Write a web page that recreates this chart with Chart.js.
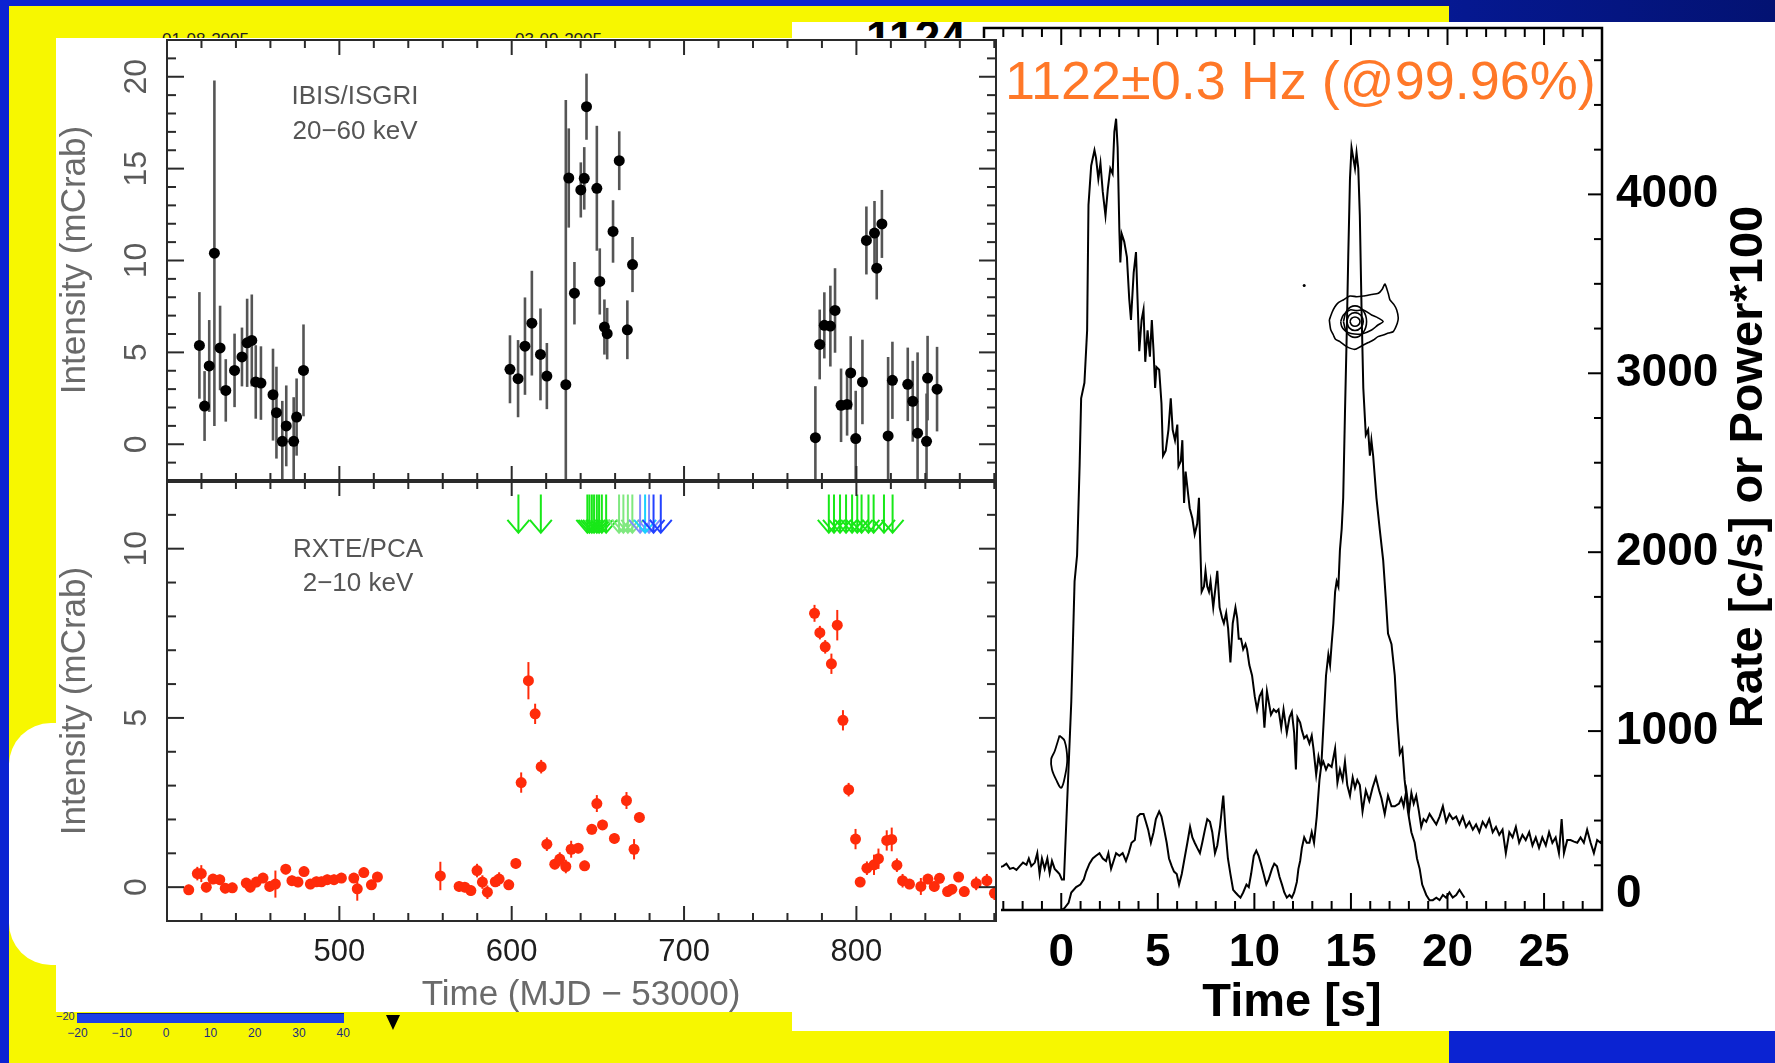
<!DOCTYPE html>
<html>
<head>
<meta charset="utf-8">
<script src="https://cdn.jsdelivr.net/npm/chart.js@4.4.1/dist/chart.umd.min.js"></script>
<style>
html, body { margin: 0; padding: 0; }
body { width: 1775px; height: 1063px; position: relative; overflow: hidden; background: #0b23d2; font-family: "Liberation Sans", Arial, sans-serif; }
.abs { position: absolute; }
canvas { position: absolute; left: 0; top: 0; }
</style>
</head>
<body>
<div class="abs" style="left:1000px;top:0;width:775px;height:23px;background:linear-gradient(to right,#0b23d2,#051890 60%,#031272)"></div>
<div class="abs" style="left:9px;top:6px;width:1440px;height:1057px;background:#f7f700"></div>
<div class="abs" style="left:9px;top:723px;width:80px;height:242px;background:#fff;border-radius:42px 0 0 42px"></div>
<div class="abs" style="left:162px;top:31px;font-size:17px;color:#222;line-height:17px">01-08-2005</div>
<div class="abs" style="left:515px;top:31px;font-size:17px;color:#222;line-height:17px">03-09-2005</div>

<!-- leftover colour scale of the slide, bottom left -->
<div class="abs" style="left:56px;top:1011px;font-size:11px;color:#1a2a80;line-height:11px">−20</div>
<div class="abs" style="left:77px;top:1013px;width:267px;height:9px;background:#1d3fe6;border-top:1px solid #0a1a90"></div>
<div class="abs" id="scaleLabels" style="left:0;top:1027px;font-size:12px;color:#1a2a80;line-height:12px"></div>
<div class="abs" style="left:386px;top:1015px;width:0;height:0;border-left:7px solid transparent;border-right:7px solid transparent;border-top:15px solid #000"></div>

<div class="abs" style="left:792px;top:22px;width:983px;height:1009px;background:#fff;overflow:hidden">
  <div class="abs" style="left:74px;top:-8px;font-weight:bold;font-size:46px;line-height:46px;color:#000">1124</div>
</div>

<canvas id="burstChart" width="1775" height="1063"></canvas>

<div class="abs" style="left:56px;top:38px;width:945px;height:974px;background:#fff"></div>

<canvas id="isgriChart" width="1775" height="1063"></canvas>
<canvas id="pcaChart" width="1775" height="1063"></canvas>

<div class="abs" style="left:1005px;top:53px;font-size:54px;line-height:54px;color:#ff7828;white-space:nowrap">1122±0.3 Hz (@99.96%)</div>

<script>
// ---- IBIS/ISGRI 20-60 keV (MJD - 53000, mCrab) ----
const isgriMjd = [418.8, 421.8, 424.5, 427.5, 430.8, 434.1, 439.2, 443.5, 446.5, 449.2, 451.5, 454.5, 461.5, 463.5, 466.9, 469.2, 473.5, 475.2, 479.2,
  599.0, 603.7, 607.7, 611.7, 616.7, 620.4, 631.4, 633.1, 636.4, 640.1, 642.1, 643.4, 649.4, 651.1, 653.8, 655.4, 658.8, 662.4, 667.1, 670.1,
  776.2, 778.7, 781.4, 784.9, 787.6, 791.1, 794.6, 796.7, 799.6, 803.5, 805.8, 810.5, 811.8, 814.8, 818.4, 820.9, 829.8, 832.7, 835.5, 840.7, 841.3, 846.8];
const isgriFlux = [5.38, 2.08, 4.26, 10.4, 5.24, 2.93, 4.02, 4.75, 5.52, 5.65, 3.39, 3.33, 2.7, 1.72, 0.16, 1.0, 0.16, 1.48, 4.02,
  4.08, 3.57, 5.34, 6.59, 4.89, 3.71, 3.24, 14.49, 8.22, 13.84, 14.47, 18.37, 13.93, 8.86, 6.38, 6.02, 11.58, 15.43, 6.23, 9.78,
  0.36, 5.43, 6.47, 6.43, 7.28, 2.12, 2.17, 3.88, 0.31, 3.39, 11.09, 11.49, 9.58, 11.99, 0.45, 3.48, 3.26, 2.34, 0.6, 0.16, 3.6, 3.0];
const isgriErr = [2.9, 1.9, 2.5, 9.4, 2.3, 1.7, 2.0, 1.6, 2.4, 2.5, 2.0, 2.0, 2.5, 2.5, 2.2, 2.2, 2.4, 2.1, 2.5,
  1.85, 2.1, 2.65, 2.85, 2.5, 1.8, 15.5, 2.7, 1.7, 1.5, 1.7, 1.8, 3.4, 1.8, 1.5, 1.4, 1.7, 1.6, 1.6, 1.5,
  2.8, 1.9, 1.8, 2.2, 2.3, 2.0, 1.7, 2.0, 2.6, 2.3, 1.85, 1.75, 1.7, 1.85, 4.3, 2.1, 2.0, 2.2, 4.4, 2.6, 2.3, 2.3];

// ---- RXTE/PCA 2-10 keV ----
const pcaMjd = [412.6, 417.6, 419.9, 422.8, 426.7, 430.6, 433.8, 437.9, 446.0, 448.3, 451.8, 455.7, 459.6, 462.9, 468.9, 472.5, 476.0, 479.5, 483.2, 486.7,
  489.6, 493.0, 496.9, 501.2, 508.4, 510.4, 514.2, 518.6, 522.1, 558.6, 569.5, 572.8, 576.3, 579.9, 583.0, 585.9, 590.5, 592.7, 598.3, 602.4,
  605.5, 609.7, 613.6, 617.1, 620.4, 625.0, 627.9, 631.4, 634.5, 638.6, 642.3, 646.5, 649.4, 652.7, 659.6, 666.6, 671.0, 674.1,
  775.7, 778.8, 781.9, 785.5, 788.9, 792.2, 795.5, 799.5, 802.2, 806.1, 810.2, 812.8, 817.6, 820.5, 823.5, 826.8, 830.8, 837.4, 841.5, 845.2,
  848.2, 852.9, 855.4, 859.3, 862.6, 869.5, 875.7, 880.1];
const pcaFlux = [-0.08, 0.40, 0.40, 0.00, 0.24, 0.22, -0.03, -0.02, 0.12, 0.00, 0.15, 0.27, 0.02, 0.09, 0.53, 0.19, 0.15, 0.46, 0.09, 0.16,
  0.16, 0.22, 0.22, 0.27, 0.27, -0.05, 0.43, 0.07, 0.30, 0.33, 0.02, 0.00, -0.10, 0.49, 0.15, -0.15, 0.16, 0.24, 0.07, 0.70,
  3.09, 6.10, 5.12, 3.56, 1.27, 0.68, 0.83, 0.61, 1.12, 1.15, 0.63, 1.71, 2.47, 1.84, 1.44, 2.56, 1.12, 2.06,
  8.09, 7.52, 7.10, 6.60, 7.74, 4.93, 2.88, 1.42, 0.15, 0.56, 0.66, 0.84, 1.38, 1.41, 0.65, 0.19, 0.09, 0.02, 0.24, 0.02,
  0.26, -0.13, -0.06, 0.30, -0.13, 0.11, 0.19, -0.18];
const pcaErr = [0.15, 0.2, 0.25, 0.15, 0.15, 0.15, 0.15, 0.15, 0.15, 0.15, 0.15, 0.15, 0.15, 0.4, 0.15, 0.15, 0.15, 0.15, 0.15, 0.15,
  0.15, 0.15, 0.15, 0.15, 0.15, 0.35, 0.15, 0.15, 0.15, 0.42, 0.15, 0.15, 0.15, 0.2, 0.2, 0.2, 0.15, 0.2, 0.15, 0.15,
  0.3, 0.55, 0.3, 0.2, 0.2, 0.15, 0.2, 0.2, 0.25, 0.15, 0.15, 0.15, 0.25, 0.15, 0.15, 0.25, 0.3, 0.15,
  0.25, 0.2, 0.2, 0.3, 0.45, 0.3, 0.2, 0.3, 0.15, 0.2, 0.3, 0.3, 0.3, 0.35, 0.2, 0.2, 0.15, 0.25, 0.15, 0.15,
  0.15, 0.15, 0.15, 0.15, 0.15, 0.2, 0.2, 0.2];

// burst arrows (MJD - 53000)
const arrowsGreen = [603.9, 616.9, 643.9, 645.1, 646.5, 647.8, 649.4, 650.7, 652.3, 654.8,
  784, 787, 790.5, 794, 797.5, 800.5, 803, 807, 810, 816, 821];
const arrowsPaleGreen = [662.3, 664.8, 667.4, 670.0];
const arrowsLightBlue = [674.5, 679.7];
const arrowsCyan = [677.4];
const arrowsBlue = [682.3, 686.5];
const arrowTop = 11.6;
const arrowTip = 10.47;

const mjdTicks = [500, 600, 700, 800];
const isgriTicks = [0, 5, 10, 15, 20];
const pcaTicks = [0, 5, 10];

// ---- burst light curves (s, c/s) ----
const burst1Time = [-4.0, -3.5, -3.01, -2.84, -2.66, -2.49, -2.32, -2.15, -1.98, -1.80, -1.68, -1.55, -1.37, -1.24, -1.12, -1.00, -0.86, -0.72, -0.60, -0.48, -0.34, -0.21, -0.09, 0.03,
  0.14, 0.52, 0.69, 0.82, 0.95, 1.03, 1.20, 1.34, 1.41, 1.55, 1.72, 1.80, 1.92, 2.03, 2.15, 2.29, 2.41, 2.54, 2.66, 2.75, 2.84, 2.92, 3.01, 3.06, 3.13, 3.26, 3.40, 3.52, 3.61, 3.75,
  3.87, 3.95, 4.04, 4.16, 4.26, 4.35, 4.47, 4.59, 4.69, 4.78, 4.86, 4.93, 5.07, 5.19, 5.27, 5.41, 5.55, 5.67, 5.77, 5.89, 6.01, 6.07, 6.19, 6.27, 6.36, 6.44, 6.53, 6.65, 6.79, 6.91,
  7.04, 7.13, 7.18, 7.27, 7.39, 7.47, 7.56, 7.65, 7.73, 7.87, 7.99, 8.08, 8.20, 8.33, 8.42, 8.54, 8.64, 8.76, 8.88, 9.02, 9.11, 9.19, 9.31, 9.42, 9.54, 9.62, 9.74, 9.88, 10.02, 10.14,
  10.27, 10.40, 10.52, 10.65, 10.74, 10.86, 11.00, 11.13, 11.25, 11.39, 11.51, 11.68, 11.82, 11.94, 12.06, 12.15, 12.23, 12.37,
  12.46, 12.58, 12.71, 12.85, 12.97, 13.06, 13.20, 13.32, 13.44, 13.57, 13.71, 13.83, 14.00, 14.18, 14.30, 14.43, 14.57, 14.69, 14.81, 14.95, 15.09, 15.21, 15.33, 15.46, 15.60, 15.77,
  15.95, 16.12, 16.29, 16.46, 16.58, 16.75, 16.92, 17.10, 17.27, 17.49, 17.61, 17.73, 17.87, 18.01, 18.13, 18.25, 18.38, 18.52, 18.64, 18.76, 18.90, 19.07, 19.24, 19.42, 19.59, 19.76,
  19.93, 20.10, 20.27, 20.45, 20.62, 20.79, 20.96, 21.13, 21.31, 21.48, 21.65, 21.82, 21.99, 22.16, 22.34, 22.51, 22.68, 22.85, 23.02, 23.20, 23.37, 23.54, 23.71, 23.88, 24.05, 24.23,
  24.40, 24.57, 24.74, 24.91, 25.09, 25.26, 25.43, 25.60, 25.77, 25.91, 26.03, 26.20, 26.37, 26.55, 26.72, 26.89, 27.06, 27.23, 27.41, 27.58, 27.75, 27.92, 28.0];
const burst1Rate = [250, 230, 245, 259, 230, 236, 224, 245, 265, 253, 288, 245, 265, 318, 201, 288, 230, 288, 207, 274, 230, 215, 201, 171,
  171, 1165, 1837, 1983, 2480, 2860, 2947, 3240, 3941, 4160, 4247, 4204, 4087, 4174, 4014, 3882, 4028, 4145, 4116, 4350, 4423, 4262, 3795, 3619, 3780, 3736, 3649, 3415, 3298, 3561,
  3678, 3415, 3123, 3298, 3356, 3064, 3240, 3093, 3298, 3123, 2918, 3035, 3020, 2831, 2539, 2568, 2684, 2860, 2684, 2626, 2713, 2480, 2509, 2626, 2275, 2451, 2363, 2246, 2188, 2100,
  2159, 2304, 2100, 1779, 1808, 1896, 1808, 1779, 1837, 1691, 1808, 1896, 1691, 1632, 1603, 1661, 1574, 1384, 1603, 1691, 1632, 1516, 1516, 1457, 1486, 1457, 1369, 1311, 1194, 1121,
  1194, 1223, 1019, 1223, 1165, 1092, 1121, 1107, 1121, 1019, 1121, 990, 1077, 1107, 990, 785, 1077, 1048,
  1004, 960, 975, 931, 975, 902, 756, 858, 800, 829, 785, 814, 800, 902, 712, 785, 727, 829, 698, 639, 741, 683, 727, 698, 551, 668,
  610, 683, 741, 668, 625, 537, 639, 580, 580, 595, 625, 580, 668, 551, 654, 595, 639, 551, 464, 508, 493, 537, 508, 478, 522, 580,
  493, 537, 508, 522, 478, 522, 464, 493, 449, 478, 435, 493, 464, 508, 435, 464, 420, 449, 318, 435, 406, 464, 376, 420, 391, 435,
  361, 406, 347, 406, 361, 435, 376, 406, 318, 508, 318, 391, 391, 382, 376, 406, 376, 449, 376, 318, 391, 376, 390];

const burst2Time = [0.0, 0.17, 0.38, 0.52, 0.77, 0.99, 1.17, 1.29, 1.46, 1.63, 1.80, 1.98, 2.15, 2.32, 2.44, 2.58, 2.71, 2.84, 3.01, 3.18, 3.35, 3.49, 3.64, 3.81, 3.95, 4.09, 4.26, 4.38,
  4.50, 4.64, 4.78, 4.90, 5.07, 5.19, 5.33, 5.46, 5.58, 5.72, 5.84, 5.98, 6.10, 6.24, 6.36, 6.53, 6.67, 6.79, 6.91, 7.04, 7.18, 7.30, 7.44, 7.56, 7.70, 7.82, 7.96, 8.08, 8.22, 8.33,
  8.39, 8.51, 8.63, 8.76, 8.90, 9.02, 9.14, 9.28, 9.42, 9.59, 9.71, 9.83, 9.97, 10.10, 10.22, 10.34, 10.48, 10.62, 10.74, 10.91, 11.03, 11.17, 11.30, 11.43, 11.55, 11.68, 11.82, 11.94,
  12.06, 12.20, 12.28, 12.37,
  12.46, 12.58, 12.71, 12.85, 12.97, 13.09, 13.23, 13.37, 13.47, 13.57, 13.71, 13.83, 13.92, 14.00, 14.09, 14.18, 14.26, 14.35, 14.43, 14.52, 14.60, 14.69, 14.78, 14.86, 14.95, 15.03,
  15.12, 15.21, 15.29, 15.38, 15.46, 15.55, 15.64, 15.77, 15.89, 15.98, 16.06, 16.15, 16.32, 16.49, 16.67, 16.80, 16.92, 17.10, 17.27, 17.39, 17.53, 17.66, 17.78, 17.87, 17.95, 18.13,
  18.30, 18.42, 18.56, 18.69, 18.90, 19.07, 19.24, 19.42, 19.59, 19.76, 19.93, 20.10, 20.27, 20.45, 20.62, 20.79, 20.88];
const burst2Rate = [0, 11, 40, 98, 128, 142, 171, 215, 259, 288, 303, 318, 288, 274, 318, 230, 274, 318, 303, 318, 274, 318, 376, 391, 522, 537, 537, 493,
  449, 376, 435, 508, 551, 522, 449, 376, 288, 245, 215, 201, 142, 201, 274, 376, 464, 406, 376, 347, 318, 376, 449, 508, 493, 435, 318, 361, 464, 580,
  639, 435, 288, 201, 113, 98, 84, 69, 98, 142, 128, 201, 303, 332, 303, 259, 201, 142, 171, 230, 259, 245, 186, 142, 98, 69, 84, 69,
  98, 157, 230, 274,
  347, 406, 376, 376, 435, 376, 522, 727, 814, 1019, 1311, 1428, 1369, 1486, 1603, 1779, 1837, 1808, 2012, 2129, 2304, 2772, 3210, 3649, 4087, 4262,
  4204, 4145, 4233, 4145, 3882, 3356, 2918, 2655, 2684, 2539, 2626, 2539, 2304, 2129, 1954, 1749, 1545, 1486, 1311, 1077, 873, 902, 727, 639, 551, 435,
  376, 288, 230, 142, 84, 55, 55, 69, 55, 84, 69, 98, 69, 84, 113, 84, 69];

// power contours (s, power*100)
const blobTime = [-0.09, 0.17, 0.31, 0.21, 0.0, -0.26, -0.48, -0.52, -0.34, -0.17, -0.09];
const blobPower = [975, 946, 844, 756, 683, 727, 785, 844, 887, 946, 975];
const outerTime = [13.88, 14.02, 14.17, 14.35, 14.60, 14.95, 15.30, 15.64, 16.05, 16.42, 16.62, 16.76, 16.93, 17.02, 17.22, 17.37, 17.45, 17.40, 17.19, 16.95, 16.67, 16.40, 16.16, 15.90, 15.64, 15.21, 14.78, 14.43, 14.20, 14.09, 13.95, 13.88];
const outerPower = [3298, 3340, 3372, 3395, 3410, 3432, 3428, 3432, 3440, 3447, 3470, 3499, 3447, 3410, 3385, 3354, 3310, 3280, 3233, 3225, 3214, 3205, 3186, 3172, 3158, 3134, 3149, 3177, 3190, 3214, 3245, 3298];
const midTime = [14.47, 14.60, 14.95, 15.30, 15.64, 16.07, 16.40, 16.67, 16.40, 16.07, 15.56, 15.00, 14.69, 14.52, 14.47];
const midPower = [3289, 3325, 3354, 3350, 3354, 3326, 3310, 3289, 3270, 3242, 3220, 3222, 3238, 3262, 3289];
const ring1Time = [14.61, 14.79, 15.21, 15.63, 15.81, 15.63, 15.21, 14.79, 14.61];
const ring1Power = [3289, 3351, 3377, 3351, 3289, 3227, 3201, 3227, 3289];
const ring2Time = [14.78, 14.91, 15.21, 15.51, 15.64, 15.51, 15.21, 14.91, 14.78];
const ring2Power = [3289, 3324, 3339, 3324, 3289, 3254, 3239, 3254, 3289];
const ring3Time = [14.95, 15.03, 15.21, 15.39, 15.47, 15.39, 15.21, 15.03, 14.95];
const ring3Power = [3289, 3307, 3315, 3307, 3289, 3271, 3263, 3271, 3289];
const strayTime = [12.58];
const strayPower = [3490];

const timeTicks = [0, 5, 10, 15, 20, 25];
const rateTicks = [0, 1000, 2000, 3000, 4000];
const scaleTicks = ['−20', '−10', '0', '10', '20', '30', '40'];

const pts = (xs, ys) => xs.map((v, i) => ({ x: v, y: ys[i] }));

// slide leftover scale labels
const scaleBox = document.getElementById('scaleLabels');
scaleTicks.forEach((t, i) => {
    const s = document.createElement('span');
    s.textContent = t;
    s.style.cssText = 'position:absolute;white-space:nowrap;transform:translateX(-50%);left:' + (77.5 + i * 44.3) + 'px';
    scaleBox.appendChild(s);
});

function drawText(ctx, s, x, y, font, color, rot, align) {
    ctx.save();
    ctx.translate(x, y);
    if (rot) ctx.rotate(rot);
    ctx.font = font;
    ctx.fillStyle = color;
    ctx.textAlign = align || 'center';
    ctx.textBaseline = 'middle';
    ctx.fillText(s, 0, 0);
    ctx.restore();
}

const isMajor = (v, step) => Math.abs(v / step - Math.round(v / step)) < 1e-6;

function ticksX(ctx, scale, yPix, dir, minor, major, minLen, majLen) {
    for (let v = Math.ceil(scale.min / minor) * minor; v <= scale.max + 1e-9; v += minor) {
        const px = scale.getPixelForValue(v);
        const len = isMajor(v, major) ? majLen : minLen;
        ctx.beginPath(); ctx.moveTo(px, yPix); ctx.lineTo(px, yPix + dir * len); ctx.stroke();
    }
}

function ticksY(ctx, scale, xPix, dir, minor, major, minLen, majLen) {
    for (let v = Math.ceil(scale.min / minor) * minor; v <= scale.max + 1e-9; v += minor) {
        const py = scale.getPixelForValue(v);
        const len = isMajor(v, major) ? majLen : minLen;
        ctx.beginPath(); ctx.moveTo(xPix, py); ctx.lineTo(xPix + dir * len, py); ctx.stroke();
    }
}

// error bars, arrows, frame and labels for one of the two long-term panels
function panelPlugin(cfg) {
    return {
        id: 'panel_' + cfg.name,
        beforeDatasetsDraw(chart) {
            const { ctx, chartArea: a, scales: { x, y } } = chart;
            ctx.save();
            ctx.beginPath(); ctx.rect(a.left, a.top, a.right - a.left, a.bottom - a.top); ctx.clip();
            ctx.strokeStyle = cfg.errColor;
            ctx.lineWidth = cfg.errWidth;
            cfg.mjd.forEach((m, i) => {
                const px = x.getPixelForValue(m);
                ctx.beginPath();
                ctx.moveTo(px, y.getPixelForValue(cfg.flux[i] - cfg.err[i]));
                ctx.lineTo(px, y.getPixelForValue(cfg.flux[i] + cfg.err[i]));
                ctx.stroke();
            });
            (cfg.arrows || []).forEach(group => {
                ctx.strokeStyle = group.color;
                ctx.lineWidth = 2;
                group.mjd.forEach(m => {
                    const px = x.getPixelForValue(m);
                    const top = y.getPixelForValue(arrowTop);
                    const tip = y.getPixelForValue(arrowTip);
                    ctx.beginPath();
                    ctx.moveTo(px, top); ctx.lineTo(px, tip);
                    ctx.moveTo(px - 11, tip - 13); ctx.lineTo(px, tip); ctx.lineTo(px + 11, tip - 13);
                    ctx.stroke();
                });
            });
            ctx.restore();
        },
        afterDraw(chart) {
            const { ctx, chartArea: a, scales: { x, y } } = chart;
            ctx.save();
            ctx.strokeStyle = '#2a2a2a';
            ctx.lineWidth = 2;
            ctx.strokeRect(a.left, a.top, a.right - a.left, a.bottom - a.top);
            ctx.lineWidth = 4;
            ctx.beginPath();
            const divY = cfg.name === 'isgri' ? a.bottom : a.top;
            ctx.moveTo(a.left, divY); ctx.lineTo(a.right, divY); ctx.stroke();
            ctx.lineWidth = 2;
            ticksX(ctx, x, a.top, 1, 20, 100, 8, 15);
            ticksX(ctx, x, a.bottom, -1, 20, 100, 8, 15);
            ticksY(ctx, y, a.left, 1, 1, 5, 9, 17);
            ticksY(ctx, y, a.right, -1, 1, 5, 9, 17);
            cfg.yTicks.forEach(v => drawText(ctx, String(v), 137, y.getPixelForValue(v), '32px "Liberation Sans"', '#5a5a5a', -Math.PI / 2));
            drawText(ctx, 'Intensity (mCrab)', 75, cfg.titleY, '35px "Liberation Sans"', '#6a6a6a', -Math.PI / 2);
            drawText(ctx, cfg.label1, cfg.labelX, cfg.label1Y, '26px "Liberation Sans"', '#555', 0);
            drawText(ctx, cfg.label2, cfg.labelX, cfg.label2Y, '26px "Liberation Sans"', '#555', 0);
            if (cfg.name === 'pca') {
                mjdTicks.forEach(v => drawText(ctx, String(v), x.getPixelForValue(v), 952, '31px "Liberation Sans"', '#1e1e1e', 0));
                drawText(ctx, 'Time (MJD − 53000)', 581, 995, '35px "Liberation Sans"', '#6a6a6a', 0);
            }
            ctx.restore();
        }
    };
}

function panelChart(id, cfg, padding, yMin, yMax, points, color) {
    return new Chart(document.getElementById(id), {
        type: 'scatter',
        data: { datasets: [{ data: points, backgroundColor: color, borderColor: color, pointRadius: 5.5, pointHoverRadius: 5.5, borderWidth: 0, clip: 0 }] },
        options: {
            responsive: false, animation: false, devicePixelRatio: 1, events: [],
            layout: { padding },
            scales: {
                x: { type: 'linear', display: false, min: 400, max: 881 },
                y: { type: 'linear', display: false, min: yMin, max: yMax }
            },
            plugins: { legend: { display: false }, tooltip: { enabled: false } }
        },
        plugins: [panelPlugin(cfg)]
    });
}

panelChart('isgriChart', {
    name: 'isgri', mjd: isgriMjd, flux: isgriFlux, err: isgriErr, errColor: '#555', errWidth: 2.6,
    yTicks: isgriTicks, titleY: 260, label1: 'IBIS/ISGRI', label2: '20−60 keV', labelX: 355, label1Y: 97, label2Y: 132
}, { left: 167, right: 779, top: 40, bottom: 582 }, -2, 22, pts(isgriMjd, isgriFlux), '#000');

panelChart('pcaChart', {
    name: 'pca', mjd: pcaMjd, flux: pcaFlux, err: pcaErr, errColor: '#ff2b0a', errWidth: 2,
    yTicks: pcaTicks, titleY: 701, label1: 'RXTE/PCA', label2: '2−10 keV', labelX: 358, label1Y: 550, label2Y: 584,
    arrows: [
        { mjd: arrowsGreen, color: '#18e818' },
        { mjd: arrowsPaleGreen, color: '#7fe87f' },
        { mjd: arrowsLightBlue, color: '#7f8cff' },
        { mjd: arrowsCyan, color: '#19d0ff' },
        { mjd: arrowsBlue, color: '#2342ff' }
    ]
}, { left: 167, right: 779, top: 481, bottom: 142 }, -1, 12, pts(pcaMjd, pcaFlux), '#ff2b0a');

// ---- burst panel ----
const burstFrame = {
    id: 'burstFrame',
    afterDraw(chart) {
        const { ctx, chartArea: a, scales: { x, y } } = chart;
        ctx.save();
        ctx.strokeStyle = '#000';
        ctx.lineWidth = 2.5;
        ctx.strokeRect(a.left, a.top, a.right - a.left, a.bottom - a.top);
        ctx.lineWidth = 2;
        ticksX(ctx, x, a.bottom, -1, 1, 5, 9, 17);
        ticksX(ctx, x, a.top, 1, 1, 5, 9, 17);
        ticksY(ctx, y, a.right, -1, 250, 1000, 8, 14);
        ticksY(ctx, y, a.left, 1, 250, 1000, 8, 14);
        const bold = 'bold 46px "Liberation Sans"';
        timeTicks.forEach(v => drawText(ctx, String(v), x.getPixelForValue(v), 953, bold, '#000', 0));
        rateTicks.forEach(v => drawText(ctx, String(v), 1616, y.getPixelForValue(v) - (v === 0 ? 16 : 0), bold, '#000', 0, 'left'));
        drawText(ctx, 'Time [s]', 1292, 1003, 'bold 47px "Liberation Sans"', '#000', 0);
        drawText(ctx, 'Rate [c/s] or Power*100', 1749, 467, 'bold 47px "Liberation Sans"', '#000', -Math.PI / 2);
        ctx.restore();
    }
};

const lineSet = (xs, ys, width, tension) => ({
    data: pts(xs, ys), showLine: true, borderColor: '#000', borderWidth: width,
    pointRadius: 0, tension: tension || 0, fill: false, clip: 0
});

new Chart(document.getElementById('burstChart'), {
    type: 'scatter',
    data: {
        datasets: [
            lineSet(burst1Time, burst1Rate, 2),
            lineSet(burst2Time, burst2Rate, 2),
            lineSet(blobTime, blobPower, 1.8, 0.35),
            lineSet(outerTime, outerPower, 1.6, 0.2),
            lineSet(midTime, midPower, 1.6, 0.3),
            lineSet(ring1Time, ring1Power, 1.6, 0.4),
            lineSet(ring2Time, ring2Power, 1.6, 0.4),
            lineSet(ring3Time, ring3Power, 1.6, 0.4),
            { data: pts(strayTime, strayPower), backgroundColor: '#000', pointRadius: 1.5, borderWidth: 0 }
        ]
    },
    options: {
        responsive: false, animation: false, devicePixelRatio: 1, events: [],
        layout: { padding: { left: 984, right: 173, top: 28, bottom: 153 } },
        scales: {
            x: { type: 'linear', display: false, min: -4, max: 28 },
            y: { type: 'linear', display: false, min: 0, max: 4930 }
        },
        plugins: { legend: { display: false }, tooltip: { enabled: false } }
    },
    plugins: [burstFrame]
});
</script>
</body>
</html>
